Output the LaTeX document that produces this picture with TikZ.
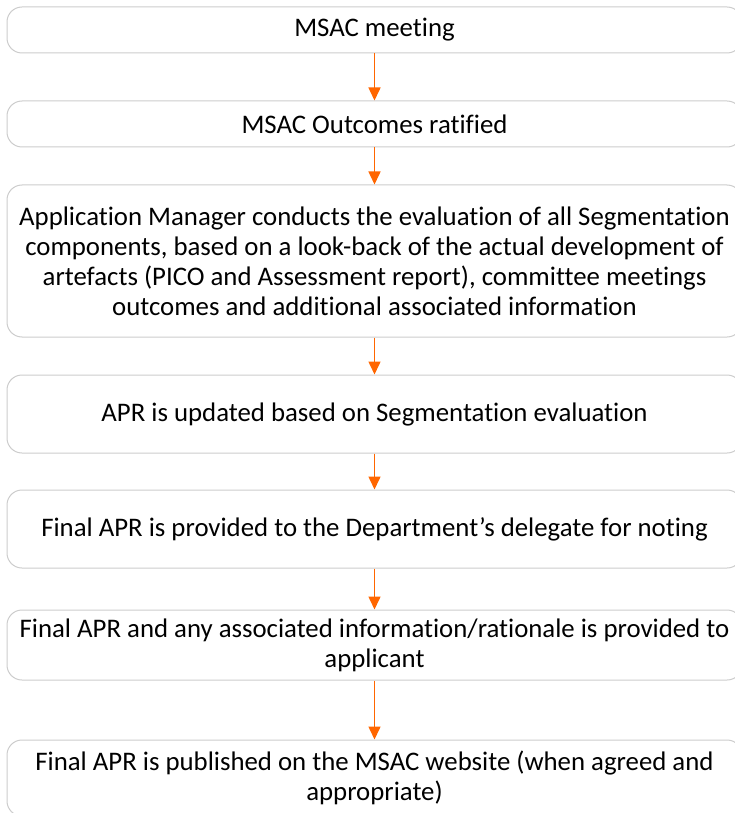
\documentclass[tikz,border=0pt]{standalone}
\usepackage{fontspec}
\setmainfont{Carlito}[Ligatures=NoCommon]
\usetikzlibrary{arrows.meta}
\definecolor{floworange}{HTML}{FF6600}
\definecolor{boxgrey}{HTML}{CCCCCC}
\tikzset{
  stepbox/.style={draw=boxgrey, line width=1pt, rounded corners=15pt,
    minimum width=735pt, inner sep=0pt, align=center,
    font=\fontsize{26.8}{30}\selectfont},
  flow/.style={draw=floworange, line width=1.5pt,
    -{Triangle[width=12pt,length=13pt]}}
}
\begin{document}
\begin{tikzpicture}[x=1pt,y=-1pt]
    \useasboundingbox (0,0) rectangle (735,813);
    % steps
    \node[stepbox, minimum height=46pt] (meeting) at (374.5,30) {MSAC meeting};
    \node[stepbox, minimum height=46pt] (ratified) at (374.5,124) {MSAC Outcomes ratified};
    \node[stepbox, minimum height=152pt] (evaluation) at (374.5,261)
        {Application Manager conducts the evaluation of all Segmentation\\
         components, based on a look-back of the actual development of\\
         artefacts (PICO and Assessment report), committee meetings\\
         outcomes and additional associated information};
    \node[stepbox, minimum height=78pt] (updated) at (374.5,414) {APR is updated based on Segmentation evaluation};
    \node[stepbox, minimum height=78pt] (noting) at (374.5,529) {Final APR is provided to the Department’s delegate for noting};
    \node[stepbox, minimum height=70pt] (applicant) at (374.5,645)
        {Final APR and any associated information/rationale is provided to\\ applicant};
    \node[stepbox, minimum height=76pt] (published) at (374.5,778)
        {Final APR is published on the MSAC website (when agreed and\\ appropriate)};
    % arrows
    \draw[flow] (meeting) -- (ratified);
    \draw[flow] (ratified) -- (evaluation);
    \draw[flow] (evaluation) -- (updated);
    \draw[flow] (updated) -- (noting);
    \draw[flow] (noting) -- (applicant);
    \draw[flow] (applicant) -- (published);
\end{tikzpicture}
\end{document}
